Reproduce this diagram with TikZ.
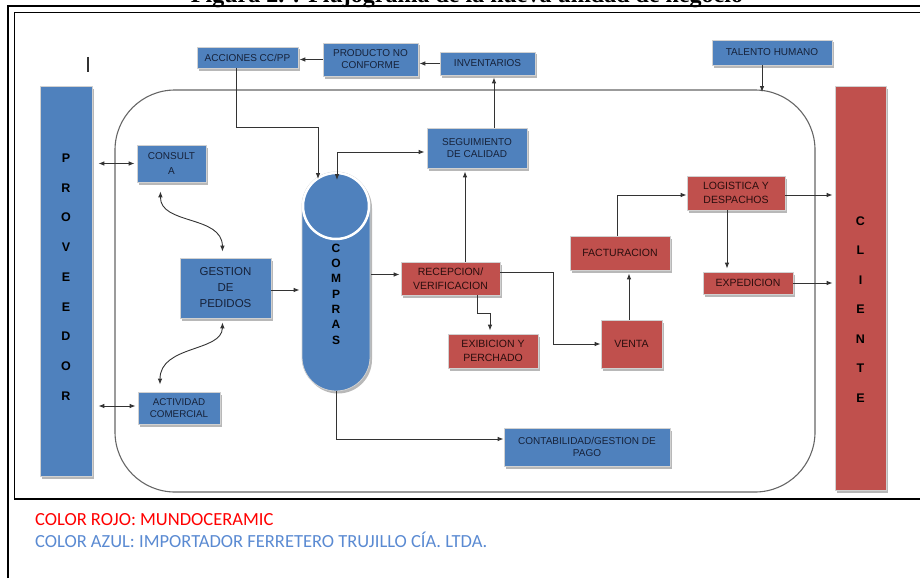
\documentclass[tikz,border=0pt]{standalone}
\usepackage{fontspec}
\setmainfont{Liberation Sans}
\newfontfamily\serifb{Liberation Serif}
\newfontfamily\legfont{Carlito}
\usetikzlibrary{calc,shadows,arrows.meta}
\definecolor{bblue}{HTML}{4F81BD}
\definecolor{rred}{HTML}{C0504D}
\definecolor{lineg}{HTML}{333333}
\definecolor{legblue}{HTML}{5A8AD2}
\definecolor{txtb}{HTML}{16223A}
\definecolor{txtr}{HTML}{2A0E0E}
\begin{document}
\begin{tikzpicture}[x=1pt,y=-1pt,
  base/.style={draw=white!82!black, line width=0.8pt, inner sep=1pt, align=center,
    drop shadow={shadow xshift=2pt, shadow yshift=-2.5pt, fill=black!28, opacity=1}},
  sz/.style 2 args={minimum width=#1pt, minimum height=#2pt},
  bbox/.style={base, fill=bblue, text=txtb, font=\fontsize{10}{12}\selectfont},
  rbox/.style={base, fill=rred, text=txtr, font=\fontsize{10.5}{13.5}\selectfont},
  ln/.style={draw=lineg, line width=0.9pt},
  arr/.style={ln, -{Latex[length=6pt,width=4.6pt]}},
  dbl/.style={ln, {Latex[length=6pt,width=4.6pt]}-{Latex[length=6pt,width=4.6pt]}},
  bigletters/.style={font=\bfseries\fontsize{12.5}{#1}\selectfont, align=center, text=black, inner sep=0pt}
]
\useasboundingbox (0,0) rectangle (920,578);
\clip (0,0) rectangle (920,578);

% title (cut off at the top, as in the reference)
\node[font=\serifb\bfseries\fontsize{24}{24}\selectfont, anchor=base, inner sep=0pt] (title) at (467,3) {Figura 2. : Flujograma de la nueva unidad de negocio};

% frames
\draw[line width=2pt] (8,578) -- (8,6) -- (920,6);
\draw[line width=1.3pt] (920,12.5) -- (14.5,12.5) -- (14.5,499) -- (920,499);

% stray mark
\draw[line width=1.3pt, black!80] (88,57) -- (88,72);

% big rounded container
\draw[draw=black!60, line width=1.1pt, rounded corners=60pt] (115,90) rectangle (815,492);

% side bars
\node[base, fill=bblue, sz={52}{390}] (prov) at (66,281) {};
\node[bigletters=29.75] (provt) at (66,277) {P\\R\\O\\V\\E\\E\\D\\O\\R};
\node[base, fill=rred, sz={51}{404}] (cli) at (860.5,288) {};
\node[bigletters=29.5] (clit) at (860.5,309.5) {C\\L\\I\\E\\N\\T\\E};

% top boxes
\node[bbox, sz={101}{21}] (accion) at (247.5,57.5) {ACCIONES CC/PP};
\node[bbox, sz={95}{33}] (prodnc) at (370.5,59.5) {PRODUCTO NO\\CONFORME};
\node[bbox, sz={95}{23}] (inv) at (487.5,63.5) {INVENTARIOS};
\node[bbox, sz={120}{25}] (talento) at (772,52.5) {TALENTO HUMANO};

% inner boxes
\node[bbox, sz={100}{40}] (seg) at (477,148) {SEGUIMIENTO\\DE CALIDAD};
\node[bbox, sz={69}{37}, font=\fontsize{10}{15}\selectfont] (consulta) at (171.5,163.5) {CONSULT\\A};
\node[bbox, sz={91}{60}, font=\fontsize{11.5}{16}\selectfont] (gestion) at (225.5,288) {GESTION\\DE\\PEDIDOS};
\node[bbox, sz={82}{32}, font=\fontsize{9.8}{12.5}\selectfont] (actividad) at (179,408) {ACTIVIDAD\\COMERCIAL};
\node[bbox, sz={166}{38}] (conta) at (587,447) {CONTABILIDAD/GESTION DE\\PAGO};

% compras cylinder
\node[base, fill=bblue, sz={68}{219}, rounded corners=33.9pt] (comp) at (336,281.5) {};
\node[circle, fill=bblue, draw=white, line width=2.5pt, minimum size=66pt, inner sep=0pt] (compc) at (336,206) {};
\node[bigletters=15.3, font=\bfseries\fontsize{12}{15.3}\selectfont] (compt) at (336,294) {C\\O\\M\\P\\R\\A\\S};

% red boxes
\node[rbox, sz={99}{33}] (recep) at (450.5,278.5) {RECEPCION/\\VERIFICACION};
\node[rbox, sz={90}{34}] (exib) at (493,351) {EXIBICION Y\\PERCHADO};
\node[rbox, sz={61}{48}] (venta) at (631.5,344) {VENTA};
\node[rbox, sz={100}{34}] (fact) at (620,253) {FACTURACION};
\node[rbox, sz={98}{34}] (logis) at (736,193) {LOGISTICA Y\\DESPACHOS};
\node[rbox, sz={90}{22}] (exped) at (748,283) {EXPEDICION};

% connectors: top row
\draw[arr, shorten >=1pt] (inv.west) -- (inv.west -| prodnc.east);
\draw[arr, shorten >=1pt] (prodnc.west) -- (prodnc.west -| accion.east);
\coordinate (cin1) at (318,179);
\coordinate (cin2) at (337,180);
\coordinate (as) at ($(accion.south)+(-11.5,0)$);
\coordinate (cup) at ($(cin1)+(0,-52)$);
\draw[arr] (as) |- (cup) -- (cin1);
\coordinate (sw) at ($(seg.west)+(0,4)$);
\draw[dbl, shorten >=2pt] (cin2) |- (sw);
\coordinate (s1) at ($(seg.north)+(17,0)$);
\draw[arr, shorten >=2pt] (s1) -- (s1 |- inv.south);
\coordinate (rrtop) at (762,92);
\draw[arr] (rrtop |- talento.south) -- (rrtop);

% proveedor links
\draw[dbl, shorten <=6pt, shorten >=2pt] (consulta.west -| prov.east) -- (consulta.west);
\coordinate (aw) at ($(actividad.west)+(0,-2)$);
\draw[dbl, shorten <=6pt, shorten >=2pt] (aw -| prov.east) -- (aw);

% curved links
\coordinate (c1) at ($(consulta.south)+(-11,9)$);
\coordinate (g1) at ($(gestion.north)+(-3,-6)$);
\coordinate (g2) at ($(gestion.south)+(-3,4)$);
\coordinate (a1) at ($(actividad.north)+(-19,-7)$);
\draw[dbl] (c1) .. controls (160,225) and (222,215) .. (g1);
\draw[dbl] (g2) .. controls (222,352) and (160,345) .. (a1);

% gestion -> compras -> recepcion
\coordinate (ge) at ($(gestion.east)+(0,2)$);
\draw[arr, shorten >=2pt] (ge) -- (ge -| comp.west);
\coordinate (rw) at ($(recep.west)+(0,-4)$);
\draw[arr, shorten <=1pt, shorten >=1pt] (rw -| comp.east) -- (rw);

% recepcion links
\coordinate (rn) at ($(recep.north)+(14.5,0)$);
\draw[arr, shorten >=3pt] (rn) -- (rn |- seg.south);
\coordinate (rs) at ($(recep.south)+(26.5,0)$);
\coordinate (en) at ($(exib.north)+(-3,0)$);
\draw[arr, shorten >=3pt] (rs) -- ++(0,18) -| (en);
\coordinate (re) at ($(recep.east)+(0,-6)$);
\draw[arr] (re) -- ++(53,0) |- (venta.west);

% venta -> facturacion -> logistica
\coordinate (vn) at ($(venta.north)+(-2.5,0)$);
\draw[arr, shorten >=3pt] (vn) -- (vn |- fact.south);
\coordinate (fn) at ($(fact.north)+(-3,0)$);
\coordinate (lw) at ($(logis.west)+(0,2)$);
\draw[arr] (fn) |- (lw);

% logistica / expedicion -> cliente
\coordinate (le) at ($(logis.east)+(0,2)$);
\draw[arr, shorten >=2pt] (le) -- (le -| cli.west);
\coordinate (ls) at ($(logis.south)+(-9,0)$);
\draw[arr, shorten >=3pt] (ls) -- (ls |- exped.north);
\draw[arr, shorten >=2pt] (exped.east) -- (exped.east -| cli.west);

% compras -> contabilidad
\coordinate (cw) at ($(conta.west)+(0,-8)$);
\draw[arr] (comp.south) |- (cw);

% legend
\node[anchor=base west, inner sep=0pt, font=\legfont\fontsize{18.5}{20}\selectfont, text=red] (leg1) at (35,525) {COLOR ROJO: MUNDOCERAMIC};
\node[anchor=base west, inner sep=0pt, font=\legfont\fontsize{18.5}{20}\selectfont, text=legblue] (leg2) at (35,547) {COLOR AZUL: IMPORTADOR FERRETERO TRUJILLO CÍA. LTDA.};
\end{tikzpicture}
\end{document}
